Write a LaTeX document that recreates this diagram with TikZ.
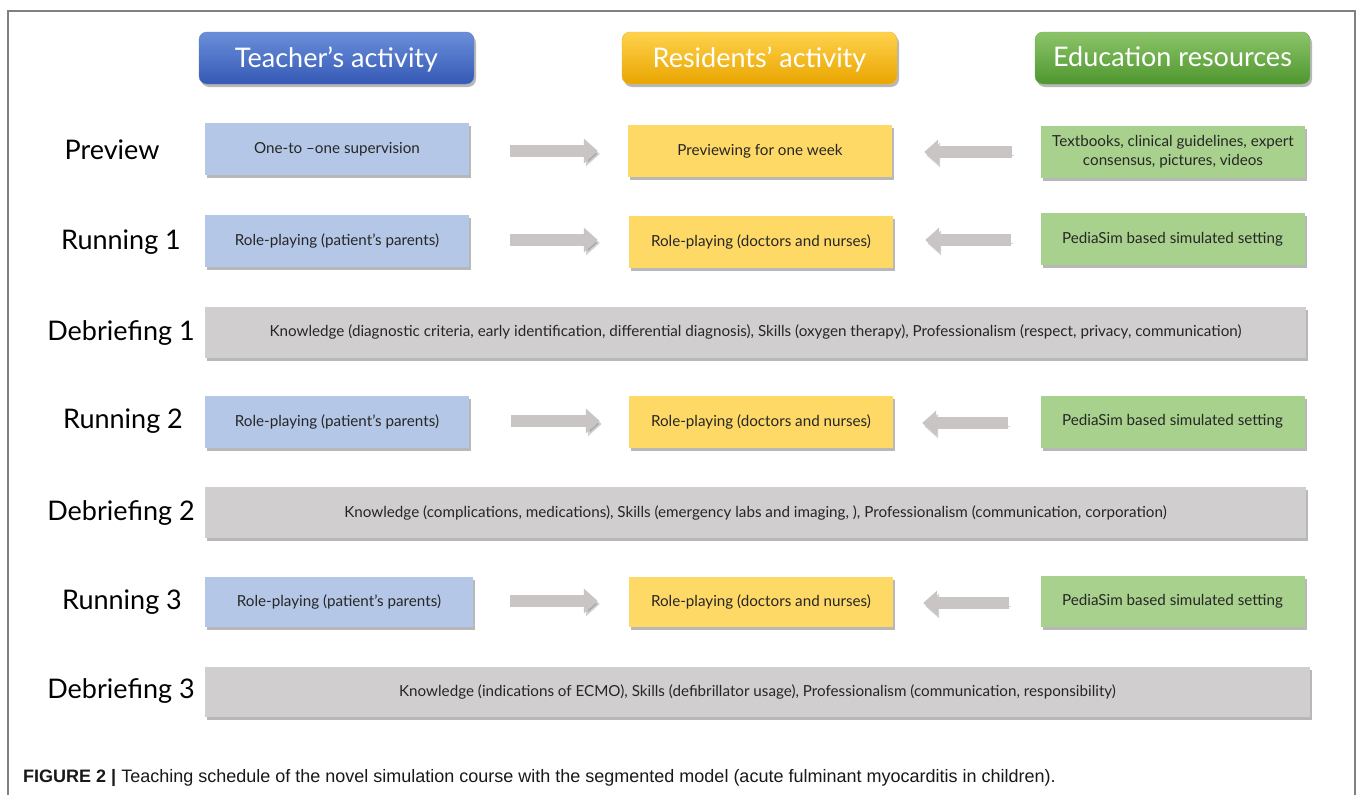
\documentclass[tikz,border=0pt]{standalone}
\usepackage{fontspec}
\setmainfont{Lato}
\newfontfamily\capfont{Liberation Sans}
\usetikzlibrary{shadows,arrows.meta,calc}
\definecolor{tblue}{HTML}{B4C7E7}
\definecolor{ryel}{HTML}{FFD966}
\definecolor{egreen}{HTML}{A9D18E}
\definecolor{dgrey}{HTML}{D0CECE}
\definecolor{arrgrey}{HTML}{C9C5C5}
\definecolor{framegrey}{HTML}{808080}
\definecolor{txt}{HTML}{262626}
\definecolor{hbluetop}{HTML}{6B8FDA}
\definecolor{hbluebot}{HTML}{3559B5}
\definecolor{hyeltop}{HTML}{FFD24D}
\definecolor{hyelbot}{HTML}{E9A500}
\definecolor{hgrntop}{HTML}{8CC46A}
\definecolor{hgrnbot}{HTML}{4E962E}
\tikzset{
  shad/.style={drop shadow={shadow xshift=2pt,shadow yshift=-3pt,fill=black,opacity=0.28}},
  cell/.style={shad,minimum width=264pt,minimum height=52pt,inner sep=2pt,text=txt,
    font=\fontsize{15.2}{19}\selectfont,align=center},
  tbox/.style={cell,fill=tblue},
  rbox/.style={cell,fill=ryel},
  ebox/.style={cell,fill=egreen},
  dbox/.style={cell,fill=dgrey,minimum width=1101pt,minimum height=51pt},
  head/.style={shad,rounded corners=8pt,minimum width=275pt,minimum height=52pt,text=white,
    font=\fontsize{27}{30}\selectfont,text depth=2pt},
  rowlabel/.style={text=black,font=\fontsize{27}{30}\selectfont},
  blockarrow/.style={draw=arrgrey,line width=12pt,-{Triangle[length=14pt,width=24pt]},
    preaction={draw=black,opacity=0.18,transform canvas={shift={(2pt,-3pt)}}}},
}
\begin{document}
\begin{tikzpicture}[x=1pt,y=-1pt]
\useasboundingbox (0,0) rectangle (1360,795);
\fill[white] (0,0) rectangle (1360,795);
\draw[framegrey,line width=2pt] (7.5,800) -- (7.5,11) -- (1355,11) -- (1355,800);
% headers
\node[head,top color=hbluetop,bottom color=hbluebot,draw=hbluebot!80!white] (h1) at (336.5,58) {Teacher’s activity};
\node[head,top color=hyeltop,bottom color=hyelbot,draw=hyelbot!80!white] (h2) at (759.5,58) {Residents’ activity};
\node[head,top color=hgrntop,bottom color=hgrnbot,draw=hgrnbot!80!white] (h3) at (1172.5,58) {Education resources};
% row labels
\node[rowlabel] (l1) at (112,150) {Preview};
\node[rowlabel] (l2) at (121,242) {Running 1};
\node[rowlabel] (l3) at (121,333) {Debriefing 1};
\node[rowlabel] (l4) at (123,421) {Running 2};
\node[rowlabel] (l5) at (121,513) {Debriefing 2};
\node[rowlabel] (l6) at (122,602) {Running 3};
\node[rowlabel] (l7) at (121,691) {Debriefing 3};
% Preview
\node[tbox] (t1) at (337,149) {One-to –one supervision};
\node[rbox] (r1) at (760,151) {Previewing for one week};
\node[ebox] (e1) at (1173,152) {Textbooks, clinical guidelines, expert\\consensus, pictures, videos};
% Running 1
\node[tbox] (t2) at (337,241) {Role-playing (patient’s parents)};
\node[rbox] (r2) at (761,242) {Role-playing (doctors and nurses)};
\node[ebox] (e2) at (1172.5,239) {PediaSim based simulated setting};
% Debriefing 1
\node[dbox] (d1) at (755.5,332) {Knowledge (diagnostic criteria, early identification, differential diagnosis), Skills (oxygen therapy), Professionalism (respect, privacy, communication)};
% Running 2
\node[tbox] (t3) at (337,421.5) {Role-playing (patient’s parents)};
\node[rbox] (r3) at (761,421.5) {Role-playing (doctors and nurses)};
\node[ebox] (e3) at (1172.5,421.5) {PediaSim based simulated setting};
% Debriefing 2
\node[dbox] (d2) at (755.5,512.5) {Knowledge (complications, medications), Skills (emergency labs and imaging, ), Professionalism (communication, corporation)};
% Running 3
\node[tbox,minimum width=268pt,minimum height=50pt] (t4) at (339,602) {Role-playing (patient’s parents)};
\node[rbox,minimum height=50pt] (r4) at (761,602) {Role-playing (doctors and nurses)};
\node[ebox,minimum height=51pt] (e4) at (1172.5,601.5) {PediaSim based simulated setting};
% Debriefing 3
\node[dbox,minimum width=1105pt,minimum height=50pt] (d3) at (757.5,692) {Knowledge (indications of ECMO), Skills (defibrillator usage), Professionalism (communication, responsibility)};
% arrows
\draw[blockarrow,shorten <=41pt,shorten >=30pt] (t1.east|-0,151) -- (r1.west|-0,151);
\draw[blockarrow,shorten <=29pt,shorten >=32pt] (e1.west|-0,152) -- (r1.east|-0,152);
\draw[blockarrow,shorten <=41pt,shorten >=31pt] (t2.east|-0,240) -- (r2.west|-0,240);
\draw[blockarrow,shorten <=29pt,shorten >=32pt] (e2.west|-0,240) -- (r2.east|-0,240);
\draw[blockarrow,shorten <=42pt,shorten >=29pt] (t3.east|-0,421) -- (r3.west|-0,421);
\draw[blockarrow,shorten <=32pt,shorten >=29pt] (e3.west|-0,423) -- (r3.east|-0,423);
\draw[blockarrow,shorten <=37pt,shorten >=31pt] (t4.east|-0,601) -- (r4.west|-0,601);
\draw[blockarrow,shorten <=31pt,shorten >=30pt] (e4.west|-0,603) -- (r4.east|-0,603);
% caption
\node[anchor=west,inner sep=0pt,font=\capfont\fontsize{18}{21}\selectfont,text=black!90] (cap) at (23,778)
  {\textbf{FIGURE 2 |} Teaching schedule of the novel simulation course with the segmented model (acute fulminant myocarditis in children).};
\end{tikzpicture}
\end{document}
